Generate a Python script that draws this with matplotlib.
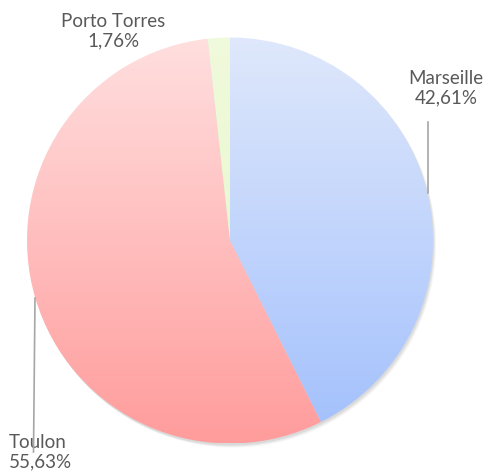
import numpy as np
import matplotlib.pyplot as plt
from matplotlib.colors import LinearSegmentedColormap

# data
labels = ["Marseille", "Toulon", "Porto Torres"]
shares = [42.61, 55.63, 1.76]
pct_text = ["42,61%", "55,63%", "1,76%"]
top_colors = ["#dfe8fb", "#ffdfdf", "#f0fadc"]
bot_colors = ["#a2c0fd", "#ff9c9c", "#e4f7c4"]

W, H = 486, 476
fig = plt.figure(figsize=(W / 100, H / 100), dpi=100)
ax = fig.add_axes([0, 0, 1, 1])

cx, cy, r = 230, 240.5, 203

# soft shadow
for i, a in enumerate([0.06, 0.05, 0.04]):
    sh = plt.Circle((cx + 1 + i, cy + 2 + i), r, color="k", alpha=a, lw=0, zorder=0)
    ax.add_patch(sh)

# y axis is inverted: start at -90 (top on screen), ccw in data = clockwise on screen
wedges, _ = ax.pie(shares, center=(cx, cy), radius=r, startangle=-90,
                   counterclock=True, frame=True,
                   wedgeprops=dict(lw=0, edgecolor="none"))

grad = np.linspace(0, 1, 256).reshape(-1, 1)
for w, c0, c1 in zip(wedges, top_colors, bot_colors):
    w.set_facecolor("none")
    cmap = LinearSegmentedColormap.from_list("g", [c0, c1])
    im = ax.imshow(grad, cmap=cmap, extent=(cx - r, cx + r, cy + r, cy - r),
                   aspect="auto", zorder=1, interpolation="bilinear")
    im.set_clip_path(w)
    w.set_zorder(2)

ax.set_xlim(0, W)
ax.set_ylim(H, 0)
ax.set_aspect("auto")
ax.axis("off")

txt = dict(color="#595959", fontsize=13.5, family="Lato", linespacing=1.2)
ax.text(446, 88, labels[0] + "\n" + pct_text[0], ha="center", va="center", **txt)
ax.text(9, 452, labels[1] + "\n" + pct_text[1], ha="left", va="center", **txt)
ax.text(113, 31, labels[2] + "\n" + pct_text[2], ha="center", va="center", **txt)

ax.plot([427.5, 427.5], [122, 193], color="#a6a6a6", lw=1.2, zorder=3)
ax.plot([35, 33.5], [298, 452], color="#a6a6a6", lw=1.2, zorder=3)

fig.savefig("out.png", dpi=100)
